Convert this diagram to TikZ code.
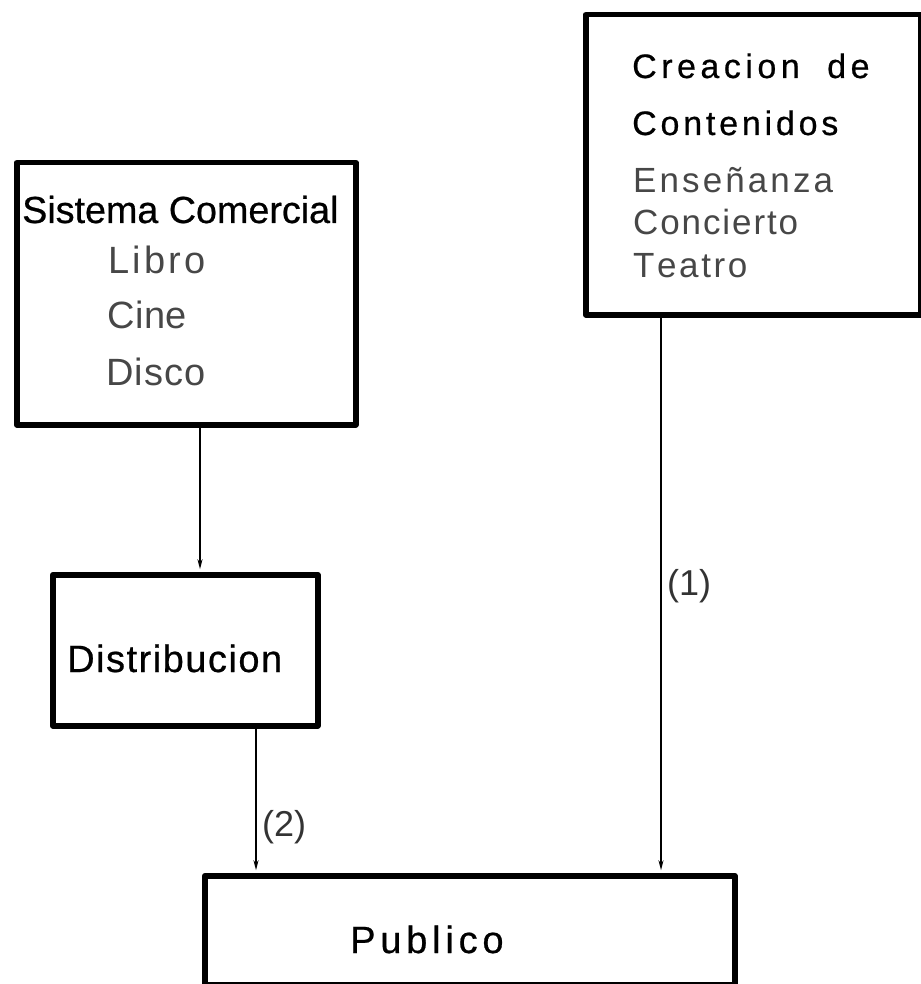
\documentclass[tikz,border=0pt]{standalone}
\usepackage{fontspec}
\setmainfont{Liberation Sans}
\newfontfamily\hfont[FakeBold=0.6]{Liberation Sans}
\usetikzlibrary{arrows.meta}
\makeatletter
\newcommand\lsp[2]{\@tfor\lsp@c:=#2\do{\lsp@c\kern#1}}
\makeatother
\begin{document}
\begin{tikzpicture}[x=1pt,y=-1pt,
  box/.style={draw, line width=5.5pt, rectangle, inner sep=0pt, anchor=north west, line join=round},
  head/.style={anchor=base west, inner sep=0pt, text=black},
  item/.style={anchor=base west, inner sep=0pt, text=black!72},
  lbl/.style={anchor=west, inner sep=0pt, text=black!80, font=\fontsize{36}{38}\selectfont},
  conn/.style={line width=1.6pt, -{Stealth[length=10pt,width=5pt]}, shorten >=2.75pt}]
\useasboundingbox (0,0) rectangle (920,984);
% boxes
\node[box, minimum width=339pt, minimum height=262pt] (sis) at (14,160) {};
\node[box, minimum width=335pt, minimum height=300pt] (cre) at (583,12) {};
\node[box, minimum width=265pt, minimum height=151pt] (dis) at (50,572) {};
\node[box, minimum width=530pt, minimum height=109pt] (pub) at (202,873) {};
% texts: Sistema Comercial
\node[head, font=\hfont\fontsize{37.7}{40}\selectfont] (tsis) at (22,223) {Sistema Comercial};
\node[item, font=\fontsize{38}{40}\selectfont] (tlib) at (108,273) {\lsp{3.2pt}{Libro}};
\node[item, font=\fontsize{38}{40}\selectfont] (tcin) at (107,328) {\lsp{0.5pt}{Cine}};
\node[item, font=\fontsize{38}{40}\selectfont] (tdis) at (106,385) {\lsp{1pt}{Disco}};
% Creacion de Contenidos
\node[head, font=\hfont\fontsize{34}{36}\selectfont] (tcre) at (632,78) {\lsp{4.5pt}{Creacion}\kern23pt\lsp{4.5pt}{de}};
\node[head, font=\hfont\fontsize{34}{36}\selectfont] (tcon) at (632,135) {\lsp{3.8pt}{Contenidos}};
\node[item, font=\fontsize{35}{37}\selectfont] (tens) at (633,193) {\lsp{3.1pt}{Enseñanza}};
\node[item, font=\fontsize{35}{37}\selectfont] (tcnc) at (633,235) {\lsp{1.9pt}{Concierto}};
\node[item, font=\fontsize{35}{37}\selectfont] (ttea) at (633,277) {\lsp{2.6pt}{Teatro}};
% Distribucion, Publico
\node[head, font=\hfont\fontsize{38}{40}\selectfont] (tdist) at (67,672) {\lsp{1.5pt}{Distribucion}};
\node[head, font=\hfont\fontsize{38}{40}\selectfont] (tpub) at (350,953) {\lsp{4.8pt}{Publico}};
% connector columns
\coordinate (c1) at (200,0);
\coordinate (c2) at (256,0);
\coordinate (c3) at (661,0);
\draw[conn] (sis.south -| c1) -- (dis.north -| c1);
\draw[conn] (dis.south -| c2) -- (pub.north -| c2);
\draw[conn] (cre.south -| c3) -- (pub.north -| c3);
% labels
\node[lbl] (l1) at (667,586) {(1)};
\node[lbl] (l2) at (262,827) {(2)};
\end{tikzpicture}
\end{document}
